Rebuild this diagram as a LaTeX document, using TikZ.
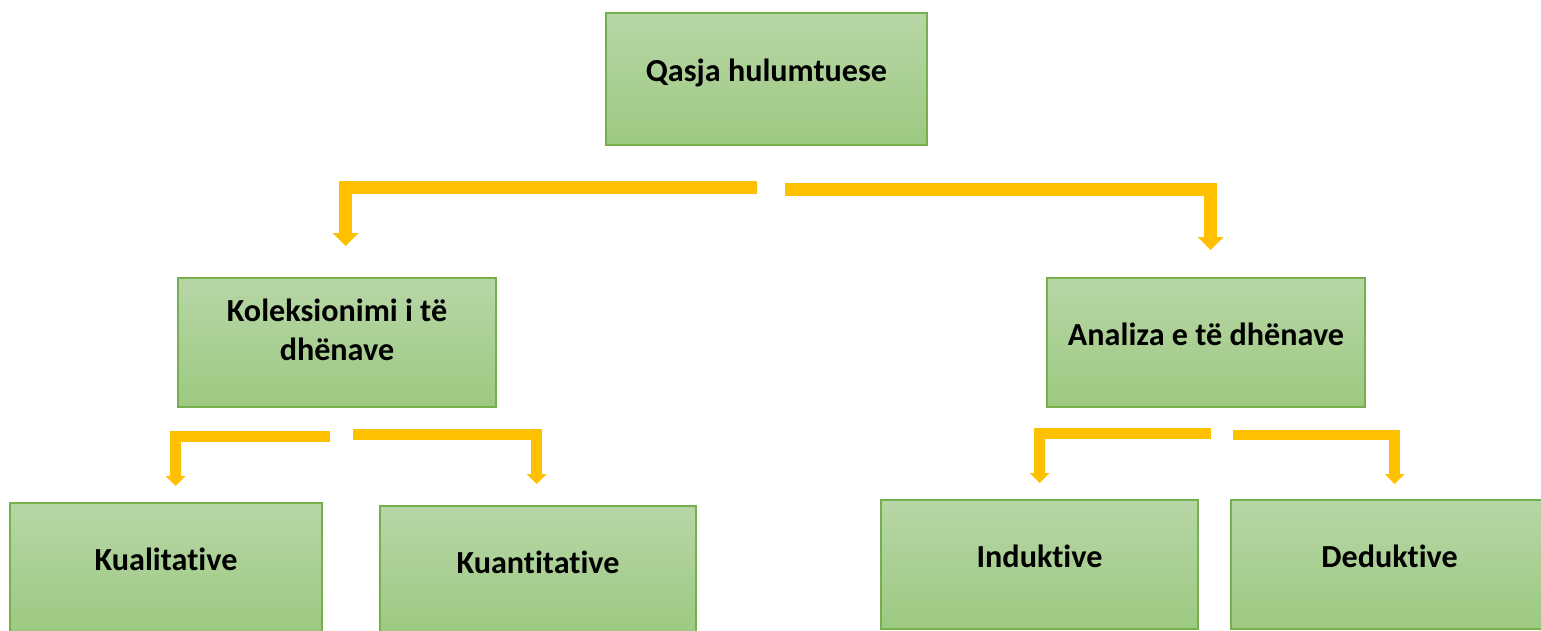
\documentclass[tikz,border=0pt]{standalone}
\usepackage{fontspec}
\setmainfont{Carlito}[Ligatures=NoCommon]
\usetikzlibrary{arrows.meta}
\definecolor{boxtop}{RGB}{183,214,166}
\definecolor{boxbot}{RGB}{157,201,129}
\definecolor{boxline}{RGB}{118,176,78}
\definecolor{gold}{RGB}{255,192,0}
\begin{document}
\begin{tikzpicture}
  [x=0.02cm,y=-0.02cm,every node/.style={draw=boxline,line width=0.9pt,top color=boxtop,bottom color=boxbot,
   font=\fontsize{18.3}{22.2}\selectfont\bfseries,align=center,inner sep=0pt,text height=0.36cm,text depth=0.24cm}]
  \tikzstyle{bigflow} = [draw=gold,line width=0.26cm,line join=miter,-{Triangle[width=0.52cm,length=0.26cm,line width=0pt]}]
  \tikzstyle{smallflow} = [draw=gold,line width=0.22cm,line join=miter,-{Triangle[width=0.4cm,length=0.2cm,line width=0pt]}]
  \useasboundingbox (0,0) rectangle (1541,631);
  \node[minimum width=6.42cm,minimum height=2.64cm] (qasja) at (766.5,79) {Qasja hulumtuese};
  \node[minimum width=6.36cm,minimum height=2.58cm,text height=0.9cm,text depth=0.16cm] (kol) at (337,342.5) {Koleksionimi i të\\dhënave};
  \node[minimum width=6.36cm,minimum height=2.58cm] (ana) at (1206,342.5) {Analiza e të dhënave};
  \node[minimum width=6.24cm,minimum height=2.58cm] (kual) at (166,567.5) {Kualitative};
  \node[minimum width=6.32cm,minimum height=2.58cm] (kuan) at (538,570.5) {Kuantitative};
  \node[minimum width=6.34cm,minimum height=2.58cm] (ind) at (1039.5,564.5) {Induktive};
  \node[minimum width=6.34cm,minimum height=2.58cm] (ded) at (1389.5,564.5) {Deduktive};

  \coordinate (s1) at (757,187.5);  \coordinate (e1) at (345.5,246);
  \coordinate (s2) at (785,189.5);  \coordinate (e2) at (1210.5,250);
  \coordinate (s3) at (330,436.5);  \coordinate (e3) at (175.5,486);
  \coordinate (s4) at (353,434.5);  \coordinate (e4) at (536.5,484);
  \coordinate (s5) at (1211,433.5); \coordinate (e5) at (1039.5,483);
  \coordinate (s6) at (1233,435);   \coordinate (e6) at (1394.5,484);

\foreach \source /\dest in {s1/e1,s2/e2}
   \draw[bigflow] (\source) -| (\dest);
\foreach \source /\dest in {s3/e3,s4/e4,s5/e5,s6/e6}
   \draw[smallflow] (\source) -| (\dest);

\end{tikzpicture}
\end{document}
